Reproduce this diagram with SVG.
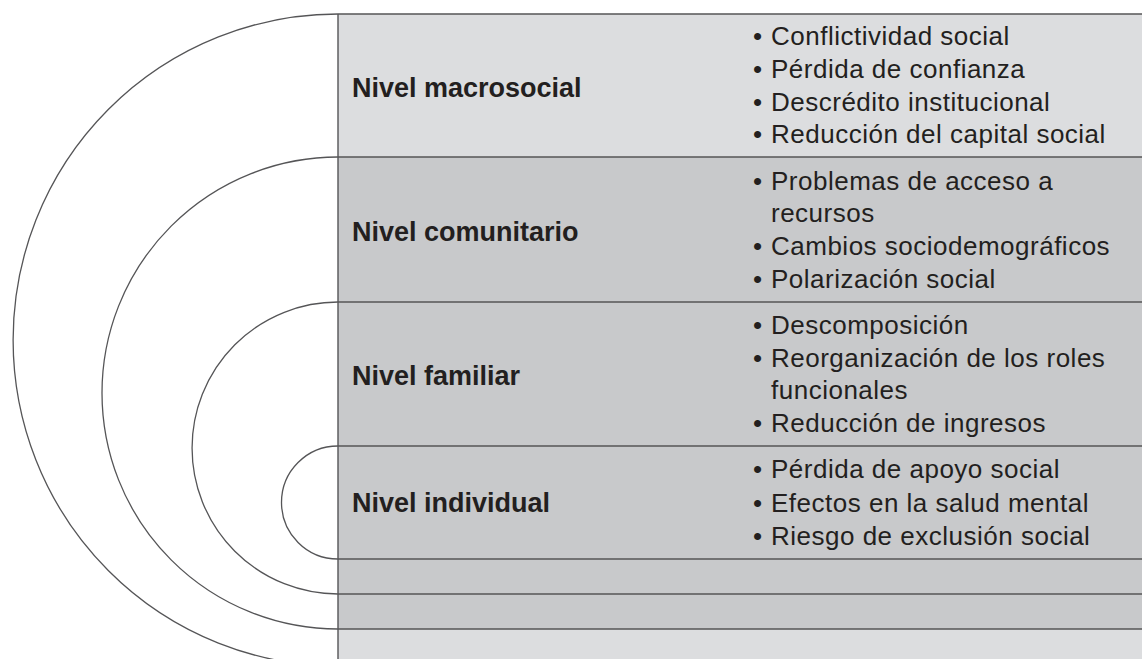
<svg xmlns="http://www.w3.org/2000/svg" width="1142" height="659" viewBox="0 0 1142 659">
<style>
.light{fill:#dcdddf}
.dark{fill:#c8c9cb}
.ln{stroke:#555557;stroke-width:1.4;fill:none}
.arc{stroke:#555557;stroke-width:1.3;fill:none}
.lbl{font-family:"Liberation Sans",Arial,Helvetica,sans-serif;font-weight:bold;font-size:27px;fill:#231f20}
.it{font-family:"Liberation Sans",Arial,Helvetica,sans-serif;font-size:26px;letter-spacing:0.5px;fill:#231f20}
</style>
<rect x="0" y="0" width="1142" height="659" fill="#ffffff"/>
<g id="backgrounds">
<rect class="light" x="338" y="14" width="804" height="143"/>
<rect class="dark" x="338" y="157" width="804" height="472"/>
<rect class="light" x="338" y="629" width="804" height="30"/>
</g>
<g id="connectors">
<path class="arc" d="M338,14 A325,326 0 0 0 338,666"/>
<path class="arc" d="M338,157 A236,236 0 0 0 338,629"/>
<path class="arc" d="M338,302 A146,146 0 0 0 338,594"/>
<path class="arc" d="M338,446 A56.5,56.5 0 0 0 338,559"/>
<path class="ln" d="M338,14 H1142 M338,157 H1142 M338,302 H1142 M338,446 H1142 M338,559 H1142 M338,594 H1142 M338,629 H1142 M338,14 V659"/>
</g>
<g id="nivel-macrosocial">
<text class="lbl" x="352" y="96.5">Nivel macrosocial</text>
<text class="it" y="45"><tspan x="753">•</tspan><tspan x="771">Conflictividad social</tspan></text>
<text class="it" y="78"><tspan x="753">•</tspan><tspan x="771">Pérdida de confianza</tspan></text>
<text class="it" y="110.5"><tspan x="753">•</tspan><tspan x="771">Descrédito institucional</tspan></text>
<text class="it" y="143"><tspan x="753">•</tspan><tspan x="771">Reducción del capital social</tspan></text>
</g>
<g id="nivel-comunitario">
<text class="lbl" x="352" y="240.7">Nivel comunitario</text>
<text class="it" y="190"><tspan x="753">•</tspan><tspan x="771">Problemas de acceso a</tspan></text>
<text class="it" x="771" y="222">recursos</text>
<text class="it" y="255"><tspan x="753">•</tspan><tspan x="771">Cambios sociodemográficos</tspan></text>
<text class="it" y="287.5"><tspan x="753">•</tspan><tspan x="771">Polarización social</tspan></text>
</g>
<g id="nivel-familiar">
<text class="lbl" x="352" y="385">Nivel familiar</text>
<text class="it" y="334"><tspan x="753">•</tspan><tspan x="771">Descomposición</tspan></text>
<text class="it" y="366.7"><tspan x="753">•</tspan><tspan x="771">Reorganización de los roles</tspan></text>
<text class="it" x="771" y="398.5">funcionales</text>
<text class="it" y="431.7"><tspan x="753">•</tspan><tspan x="771">Reducción de ingresos</tspan></text>
</g>
<g id="nivel-individual">
<text class="lbl" x="352" y="511.7">Nivel individual</text>
<text class="it" y="477.5"><tspan x="753">•</tspan><tspan x="771">Pérdida de apoyo social</tspan></text>
<text class="it" y="511.5"><tspan x="753">•</tspan><tspan x="771">Efectos en la salud mental</tspan></text>
<text class="it" y="545"><tspan x="753">•</tspan><tspan x="771">Riesgo de exclusión social</tspan></text>
</g>
</svg>
